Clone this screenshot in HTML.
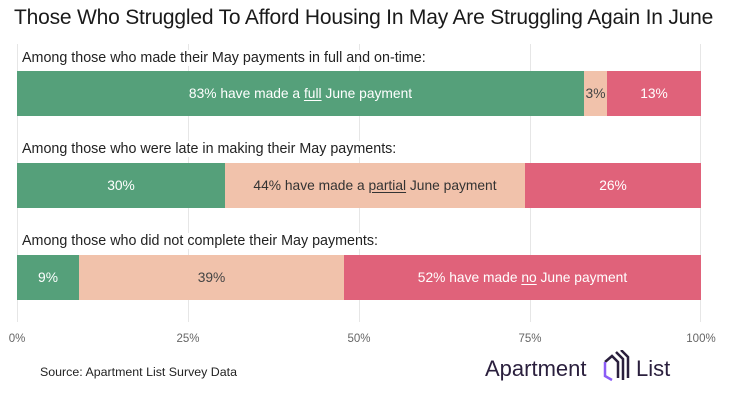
<!DOCTYPE html><html><head><style>
body{margin:0;background:#fff;font-family:"Liberation Sans",sans-serif}
#c{position:relative;width:745px;height:402px;overflow:hidden}
.a{position:absolute}
.g{position:absolute;top:44px;height:278px;width:1px;background:#e6e6e6}
.b{position:absolute;height:45px;display:flex;align-items:center;justify-content:center;font-size:13.8px;color:#fff}
.lbl{position:absolute;left:22px;font-size:14.3px;color:#222;background:#fff;padding-right:2px}
.t{position:absolute;top:333px;font-size:11.5px;color:#666;width:40px;text-align:center}
u{text-underline-offset:2px}
</style></head><body><div id="c">
<div class="a" style="left:14px;top:6px;font-size:21px;color:#1a1a1a;letter-spacing:-0.2px">Those Who Struggled To Afford Housing In May Are Struggling Again In June</div>
<div class="g" style="left:17px"></div><div class="g" style="left:188px"></div><div class="g" style="left:359px"></div><div class="g" style="left:530px"></div><div class="g" style="left:700px"></div>
<div class="lbl" style="top:50px">Among those who made their May payments in full and on-time:</div>
<div class="b" style="left:17px;top:71px;width:567px;background:#55a07a">83% have made a&nbsp;<u>full</u>&nbsp;June payment</div>
<div class="b" style="left:584px;top:71px;width:23px;background:#f1c2ab;color:#444">3%</div>
<div class="b" style="left:607px;top:71px;width:94px;background:#e0627a">13%</div>
<div class="lbl" style="top:141px">Among those who were late in making their May payments:</div>
<div class="b" style="left:17px;top:163px;width:208px;background:#55a07a">30%</div>
<div class="b" style="left:225px;top:163px;width:300px;background:#f1c2ab;color:#333">44% have made a&nbsp;<u>partial</u>&nbsp;June payment</div>
<div class="b" style="left:525px;top:163px;width:176px;background:#e0627a">26%</div>
<div class="lbl" style="top:233px">Among those who did not complete their May payments:</div>
<div class="b" style="left:17px;top:255px;width:62px;background:#55a07a">9%</div>
<div class="b" style="left:79px;top:255px;width:265px;background:#f1c2ab;color:#444">39%</div>
<div class="b" style="left:344px;top:255px;width:357px;background:#e0627a">52% have made&nbsp;<u>no</u>&nbsp;June payment</div>
<div class="t" style="left:-3px">0%</div><div class="t" style="left:168px">25%</div><div class="t" style="left:339px">50%</div><div class="t" style="left:510px">75%</div><div class="t" style="left:681px">100%</div>
<div class="a" style="left:40px;top:365px;font-size:12.4px;color:#222">Source: Apartment List Survey Data</div>
<div class="a" style="left:485px;top:356px;font-size:22px;color:#2a1f3d">Apartment</div>
<svg class="a" style="left:602px;top:350px" width="30" height="34" viewBox="0 0 30 34"><path d="M3 12 L10 6 L16 12 L16 28" fill="none" stroke="#2a1f3d" stroke-width="2.5"/><path d="M3 12 L3 26 L10 30" fill="none" stroke="#8b5cf6" stroke-width="2.5"/><path d="M14 2 L21 9 L21 30" fill="none" stroke="#2a1f3d" stroke-width="2.5"/><path d="M19 0 L26 7 L26 28" fill="none" stroke="#2a1f3d" stroke-width="2.5"/></svg>
<div class="a" style="left:636px;top:356px;font-size:22px;color:#2a1f3d">List</div>
</div></body></html>
